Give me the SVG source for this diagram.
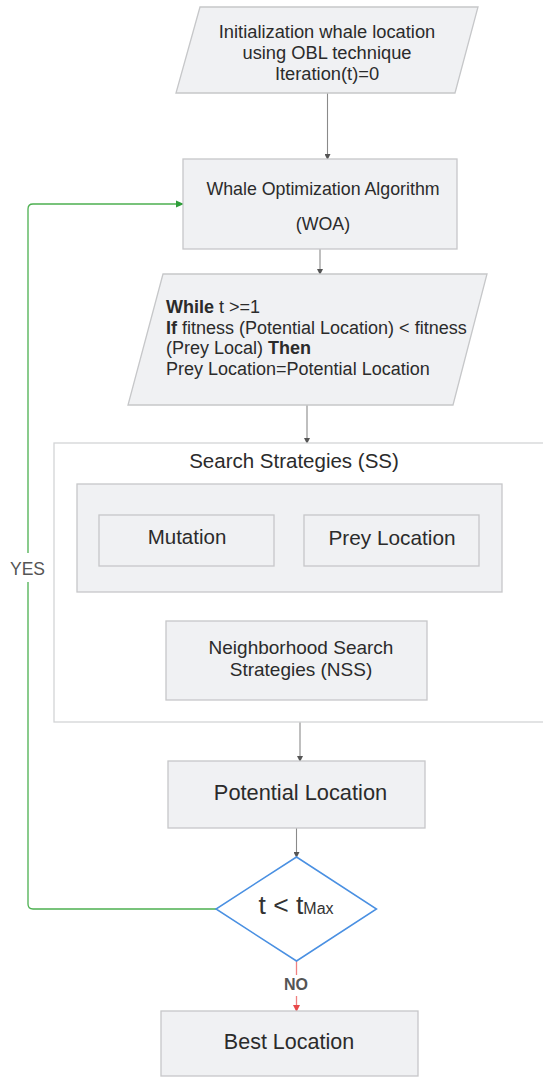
<svg xmlns="http://www.w3.org/2000/svg" width="543" height="1077" viewBox="0 0 543 1077">
<style>
.box{fill:#f0f1f3;stroke:#c6c7c9;stroke-width:1.3}
.cont{fill:#ffffff;stroke:#d3d4d6;stroke-width:1.3}
.t{font-family:"Liberation Sans",Arial,sans-serif;fill:#2b2b2b;text-anchor:middle}
.tl{font-family:"Liberation Sans",Arial,sans-serif;fill:#2b2b2b}
.conn{fill:none;stroke:#8a8a8a;stroke-width:1.1}
</style>
<defs>
<marker id="ag" markerWidth="6" markerHeight="6" refX="5" refY="3" orient="auto" markerUnits="userSpaceOnUse"><path d="M0,0 L6,3 L0,6 z" fill="#555"/></marker>
<marker id="agr" markerWidth="8" markerHeight="8" refX="7" refY="4" orient="auto" markerUnits="userSpaceOnUse"><path d="M0,0.5 L8,4 L0,7.5 z" fill="#2e9e3a"/></marker>
<marker id="ar" markerWidth="7" markerHeight="7" refX="6" refY="3.5" orient="auto" markerUnits="userSpaceOnUse"><path d="M0,0 L7,3.5 L0,7 z" fill="#e8484a"/></marker>
</defs>

<g id="connectors">
<path class="conn" d="M327.5,93 V159" marker-end="url(#ag)"/>
<path class="conn" d="M320,249 V274" marker-end="url(#ag)"/>
<path class="conn" d="M307,405 V443" marker-end="url(#ag)"/>
<path class="conn" d="M300,722 V761" marker-end="url(#ag)"/>
<path class="conn" d="M296.5,828 V857" marker-end="url(#ag)"/>
<path d="M216,909 H33 Q28,909 28,904 V209 Q28,204 33,204 H183" fill="none" stroke="#4cb050" stroke-width="1.3" marker-end="url(#agr)"/>
<path d="M296.5,961 V975 M296.5,996 V1011" fill="none" stroke="#f08080" stroke-width="1.3" marker-end="url(#ar)"/>
<rect x="6" y="553" width="44" height="29" fill="#ffffff"/>
<text class="t" x="27.5" y="575" font-size="17.5" style="fill:#555">YES</text>
<text class="t" x="296" y="990" font-size="16" font-weight="bold" style="fill:#555">NO</text>
</g>

<g id="init">
<polygon class="box" points="200,7 478,7 455,93 176,93"/>
<text class="t" x="327" y="37.5" font-size="18.3">Initialization whale location</text>
<text class="t" x="327" y="58.5" font-size="18.3">using OBL technique</text>
<text class="t" x="327" y="79.5" font-size="18.3">Iteration(t)=0</text>
</g>

<g id="woa">
<rect class="box" x="183" y="159" width="274" height="90"/>
<text class="t" x="323" y="195" font-size="17.8">Whale Optimization Algorithm</text>
<text class="t" x="323" y="230" font-size="17.8">(WOA)</text>
</g>

<g id="while">
<polygon class="box" points="163,274 487,274 453,405 128,405"/>
<text class="tl" x="166" y="313" font-size="18"><tspan font-weight="bold">While</tspan> t &gt;=1</text>
<text class="tl" x="166" y="333.5" font-size="18"><tspan font-weight="bold">If</tspan> fitness (Potential Location) &lt; fitness</text>
<text class="tl" x="166" y="354" font-size="18">(Prey Local) <tspan font-weight="bold">Then</tspan></text>
<text class="tl" x="166" y="374.5" font-size="18">Prey Location=Potential Location</text>
</g>

<g id="ss">
<rect class="cont" x="54" y="443" width="510" height="279"/>
<text class="t" x="294" y="468" font-size="20.5">Search Strategies (SS)</text>
</g>

<g id="inner">
<rect class="box" x="77" y="484" width="425" height="108"/>
</g>

<g id="mutation">
<rect class="box" x="99" y="515" width="175" height="51"/>
<text class="t" x="187" y="544" font-size="20.5">Mutation</text>
</g>

<g id="prey">
<rect class="box" x="304" y="515" width="175" height="51"/>
<text class="t" x="392" y="545" font-size="20.8">Prey Location</text>
</g>

<g id="nss">
<rect class="box" x="166" y="621" width="261" height="79"/>
<text class="t" x="301" y="654" font-size="19">Neighborhood Search</text>
<text class="t" x="301" y="676" font-size="19">Strategies (NSS)</text>
</g>

<g id="potential">
<rect class="box" x="168" y="761" width="257" height="67"/>
<text class="t" x="300.5" y="799.5" font-size="21.8">Potential Location</text>
</g>

<g id="decision">
<polygon points="296.5,857 376.5,909 296.5,961 216,909" fill="#ffffff" stroke="#4a90e2" stroke-width="1.5"/>
<text class="t" x="296" y="913.5" font-size="26.5" style="fill:#333">t &lt; t<tspan font-size="16">Max</tspan></text>
</g>

<g id="best">
<rect class="box" x="161" y="1011" width="257" height="65"/>
<text class="t" x="289" y="1049" font-size="21.5">Best Location</text>
</g>
</svg>
